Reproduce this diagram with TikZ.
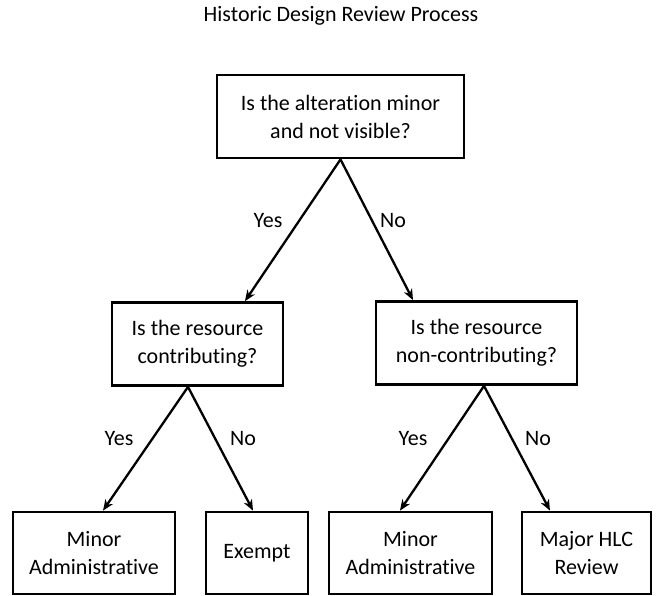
\documentclass[tikz,border=0pt]{standalone}
\usepackage{fontspec}
\setmainfont{Carlito}[Ligatures=NoCommon]
\usepackage{tikz}
\usetikzlibrary{arrows.meta,positioning}

\begin{document}
\begin{tikzpicture}[
    x=1pt, y=-1pt,
    question/.style={rectangle, draw=black, line width=2.8pt, align=center, inner sep=0pt, font=\fontsize{22}{28}\selectfont},
    result/.style={rectangle, draw=black, line width=2.8pt, align=center, inner sep=0pt, font=\fontsize{22}{28}\selectfont},
    arrow/.style={-{Stealth[length=11pt,width=9pt]}, line width=2.3pt},
    answer/.style={font=\fontsize{22}{26}\selectfont}
]
\useasboundingbox (0,0) rectangle (657,596);

% Title
\node[font=\fontsize{22}{26}\selectfont] (title) at (341, 16) {Historic Design Review Process};

% Questions
\node[question, minimum width=247pt, minimum height=83pt] (q1) at (340.5, 116.5) {Is the alteration minor\\and not visible?};
\node[question, minimum width=171pt, minimum height=83pt] (q2) at (197.5, 344) {Is the resource\\contributing?};
\node[question, minimum width=201pt, minimum height=83pt] (q3) at (476.5, 343) {Is the resource\\non-contributing?};

% Outcomes
\node[result, minimum width=162pt, minimum height=82pt] (r1) at (94, 553) {Minor\\Administrative};
\node[result, minimum width=102pt, minimum height=82pt] (r2) at (257, 553) {Exempt};
\node[result, minimum width=163pt, minimum height=82pt] (r3) at (410.5, 553) {Minor\\Administrative};
\node[result, minimum width=129pt, minimum height=82pt] (r4) at (586.5, 553) {Major HLC\\Review};

% First decision
\draw[arrow] (q1.south) -- ([xshift=47.5pt]q2.north);
\draw[arrow] (q1.south) -- ([xshift=-63.5pt]q3.north);

% Second decisions
\draw[arrow] ([xshift=-9.5pt]q2.south) -- ([xshift=9pt]r1.north);
\draw[arrow] ([xshift=-9.5pt]q2.south) -- ([xshift=-4pt]r2.north);
\draw[arrow] ([xshift=7.5pt]q3.south) -- ([xshift=-10.5pt]r3.north);
\draw[arrow] ([xshift=7.5pt]q3.south) -- ([xshift=-36.5pt]r4.north);

% Labels
\node[answer] (y1) at (268, 221) {Yes};
\node[answer] (n1) at (393, 221) {No};
\node[answer] (y2) at (119, 439) {Yes};
\node[answer] (n2) at (243, 439) {No};
\node[answer] (y3) at (413, 439) {Yes};
\node[answer] (n3) at (538, 439) {No};

\end{tikzpicture}
\end{document}
